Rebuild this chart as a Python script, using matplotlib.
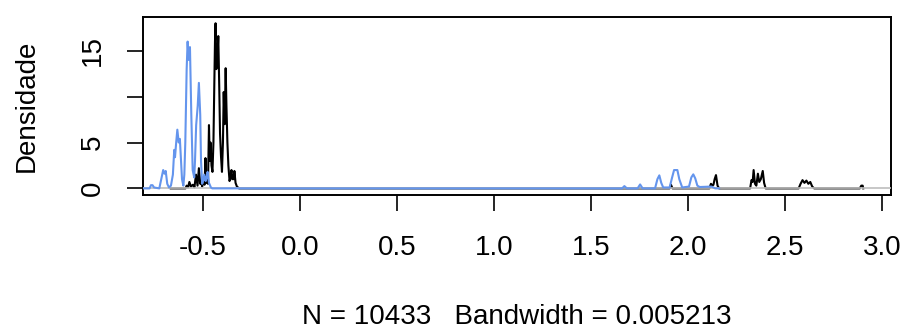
#!/usr/bin/env python
import matplotlib
matplotlib.use('Agg')
import matplotlib.pyplot as plt

# density curve (black = first series)
black_x = [-0.666, -0.59, -0.584, -0.577, -0.57, -0.562, -0.552, -0.544, -0.536, -0.528,
           -0.521, -0.514, -0.51, -0.504, -0.497, -0.492, -0.487, -0.482, -0.479, -0.474,
           -0.469, -0.465, -0.461, -0.456, -0.451, -0.446, -0.441, -0.438, -0.435, -0.431,
           -0.428, -0.424, -0.421, -0.416, -0.412, -0.407, -0.402, -0.397, -0.393, -0.39,
           -0.388, -0.386, -0.383, -0.379, -0.374, -0.369, -0.363, -0.358, -0.353, -0.349,
           -0.345, -0.341, -0.338, -0.332, -0.325, -0.314,
           1.905, 1.912, 1.92, 2.11, 2.118, 2.126, 2.131, 2.137, 2.144, 2.152, 2.16,
           2.32, 2.327, 2.333, 2.338, 2.345, 2.352, 2.36, 2.367, 2.375, 2.385, 2.392, 2.40,
           2.57, 2.58, 2.59, 2.60, 2.61, 2.62, 2.63, 2.64, 2.65,
           2.885, 2.893, 2.90, 2.903]
black_y = [0.0, 0.0, 0.3, 0.1, 0.7, 0.2, 0.4, 0.1, 1.5, 0.3,
           2.2, 0.5, 0.8, 0.2, 1.2, 0.4, 3.3, 0.6, 1.5, 0.5,
           6.9, 3.0, 5.0, 2.5, 1.8, 5.0, 12.0, 16.0, 18.0, 13.0,
           14.0, 15.0, 16.6, 11.0, 6.0, 3.5, 1.8, 5.0, 10.5, 8.0,
           7.0, 9.5, 13.1, 9.0, 5.0, 2.5, 0.8, 1.2, 2.0, 1.0,
           1.4, 1.0, 1.9, 0.6, 0.2, 0.0,
           0.0, 0.4, 0.0, 0.0, 0.5, 0.3, 0.4, 1.0, 1.45, 0.3, 0.0,
           0.0, 0.9, 0.7, 2.0, 0.5, 0.3, 1.6, 0.7, 1.0, 1.9, 0.6, 0.0,
           0.0, 0.5, 0.9, 0.6, 0.85, 0.5, 0.7, 0.2, 0.0,
           0.0, 0.3, 0.3, 0.0]

# second series (blue)
blue_x = [-0.84, -0.775, -0.768, -0.76, -0.752, -0.725, -0.715, -0.705, -0.698, -0.692,
          -0.684, -0.675, -0.665, -0.655, -0.648, -0.644, -0.638, -0.632, -0.625, -0.619,
          -0.608, -0.601, -0.596, -0.591, -0.584, -0.579, -0.574, -0.567, -0.56, -0.553,
          -0.545, -0.541, -0.535, -0.527, -0.521, -0.514, -0.51, -0.504, -0.498, -0.493,
          -0.486, -0.481, -0.476, -0.469, -0.459, -0.452,
          1.66, 1.672, 1.685, 1.74, 1.753, 1.766, 1.83, 1.842, 1.852, 1.862, 1.872,
          1.905, 1.918, 1.928, 1.945, 1.955, 1.97, 2.005, 2.017, 2.027, 2.037, 2.048,
          2.06, 2.12, 2.14, 2.16]
blue_y = [0.0, 0.0, 0.35, 0.35, 0.1, 0.0, 1.0, 2.0, 1.6, 1.9,
          0.5, 0.1, 0.3, 1.5, 4.2, 3.4, 5.0, 6.4, 5.0, 5.4,
          1.0, 0.3, 1.5, 5.0, 13.0, 16.0, 14.0, 15.4, 8.0, 2.0,
          1.2, 3.0, 6.9, 9.0, 11.5, 8.0, 3.0, 0.5, 0.9, 1.5,
          0.8, 1.2, 1.8, 0.6, 0.1, 0.0,
          0.0, 0.25, 0.0, 0.0, 0.43, 0.0, 0.0, 1.0, 1.42, 0.6, 0.1,
          0.1, 1.2, 2.0, 2.0, 1.0, 0.1, 0.2, 1.2, 1.53, 1.1, 0.3,
          0.15, 0.2, 0.0, 0.0]

x_ticks = [-0.5, 0.0, 0.5, 1.0, 1.5, 2.0, 2.5, 3.0]
y_ticks = [0, 5, 10, 15]
y_ticklabels = ['0', '5', '', '15']   # R drops the "10" label (overlap)

plt.rcParams['font.family'] = ['Liberation Sans', 'DejaVu Sans']

fig = plt.figure(figsize=(9.02, 3.29), dpi=100)
ax = fig.add_axes([143 / 902, 1 - 195 / 329, (891 - 143) / 902, (195 - 17) / 329])

ax.plot(black_x, black_y, color='black', lw=1.5, zorder=2)
ax.axhline(0, color='#BEBEBE', lw=1.2, zorder=3)
ax.plot(blue_x, blue_y, color='#6495ED', lw=1.5, zorder=4)

ax.set_xlim(-0.809, 3.046)
ax.set_ylim(-0.72, 18.68)

ax.set_xticks(x_ticks)
ax.set_xticklabels([f'{v:.1f}' for v in x_ticks])
ax.set_yticks(y_ticks)
ax.set_yticklabels(y_ticklabels, rotation=90, va='center')

ax.tick_params(axis='both', length=11.5, width=1.2, labelsize=20)
ax.tick_params(axis='x', pad=17)
ax.tick_params(axis='y', pad=15)
for s in ax.spines.values():
    s.set_linewidth(1.4)

ax.set_xlabel('N = 10433   Bandwidth = 0.005213', fontsize=20)
ax.xaxis.set_label_coords(0.5, (195 - 317) / 178)
ax.xaxis.label.set_va('center')
ax.set_ylabel('Densidade', fontsize=20)
ax.yaxis.set_label_coords((27 - 143) / 748, 0.5)
ax.yaxis.label.set_va('center')

plt.savefig('out.png', dpi=100)
